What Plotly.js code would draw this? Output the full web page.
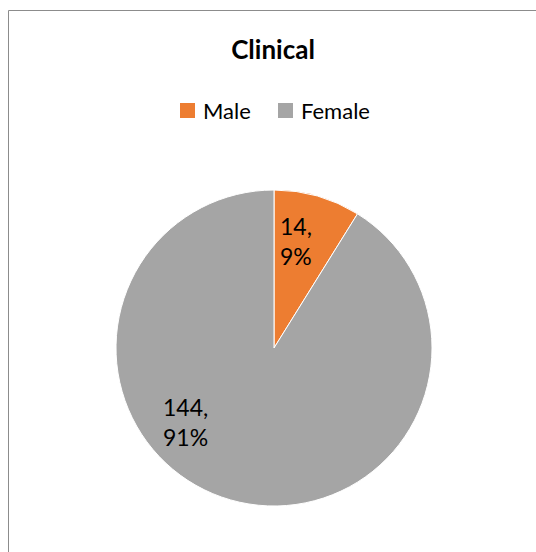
<!DOCTYPE html>
<html><head><meta charset="utf-8">
<script src="https://cdn.plot.ly/plotly-3.0.1.min.js"></script>
<style>html,body{margin:0;padding:0;background:#fff}#chart{width:536px;height:552px}</style>
</head><body><div id="chart"></div>
<script>
const categories = ["Male", "Female"];
const counts = [14, 144];
const percents = ["9%", "91%"];
const colors = ["#ED7D31", "#A5A5A5"];

const W = 536, H = 552;
const px = x => x / W, py = y => 1 - y / H;
const FONT = "Lato, 'Open Sans', sans-serif";

// data labels
const labelPos = [[278, 241], [161, 422]];
const annotations = categories.map((c, i) => ({
  xref: "paper", yref: "paper",
  x: px(labelPos[i][0]), y: py(labelPos[i][1]),
  xanchor: "left", yanchor: "middle", align: "left",
  text: counts[i] + ",<br>" + percents[i],
  showarrow: false,
  font: {family: FONT, size: 23, color: "#000"}
}));

// legend (built from categories / colors)
const legendX = [180, 278];
const shapes = [];
categories.forEach((c, i) => {
  shapes.push({type: "rect", xref: "paper", yref: "paper",
    x0: px(legendX[i]), x1: px(legendX[i] + 15), y0: py(118), y1: py(103),
    line: {width: 0}, fillcolor: colors[i]});
  annotations.push({xref: "paper", yref: "paper", x: px(legendX[i] + 21), y: py(110.5),
    xanchor: "left", yanchor: "middle", text: c, showarrow: false,
    font: {family: FONT, size: 22, color: "#000"}});
});

// chart-area border (top and left only visible)
shapes.push({type: "line", xref: "paper", yref: "paper", x0: px(8.5), x1: 1, y0: py(10.5), y1: py(10.5),
  line: {color: "#8c8c8c", width: 1}});
shapes.push({type: "line", xref: "paper", yref: "paper", x0: px(8.5), x1: px(8.5), y0: py(10.5), y1: 0,
  line: {color: "#8c8c8c", width: 1}});

const data = [{
  type: "pie",
  labels: categories,
  values: counts,
  sort: false,
  direction: "clockwise",
  rotation: 0,
  marker: {colors: colors, line: {color: "#ffffff", width: 1}},
  textinfo: "none",
  hoverinfo: "label+value+percent",
  showlegend: false,
  domain: {x: [px(116), px(432)], y: [py(506), py(190)]}
}];

const layout = {
  width: W, height: H,
  margin: {l: 0, r: 0, t: 0, b: 0},
  paper_bgcolor: "#ffffff",
  title: {text: "<b>Clinical</b>", x: px(273), xanchor: "center", y: py(50), yanchor: "middle",
          font: {family: FONT, size: 26, color: "#000"}},
  showlegend: false,
  annotations: annotations,
  shapes: shapes
};

Plotly.newPlot("chart", data, layout, {displayModeBar: false, staticPlot: true});
</script></body></html>
